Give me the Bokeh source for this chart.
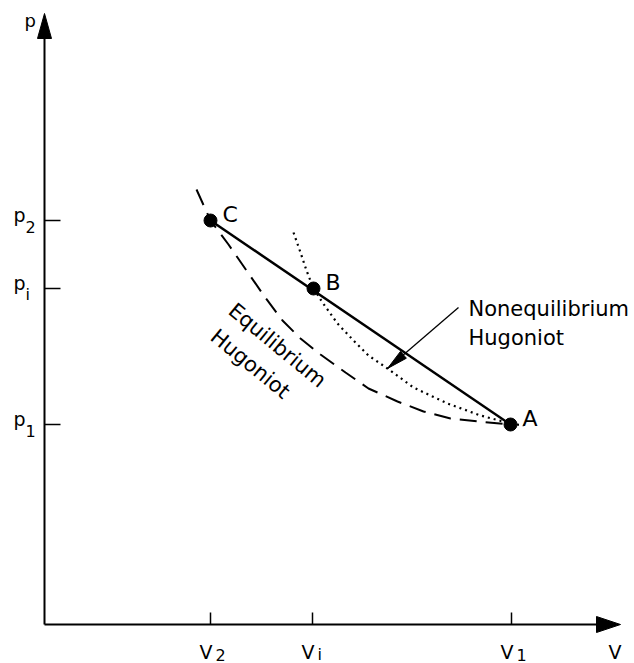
import numpy as np
from bokeh.plotting import figure
from bokeh.models import Range1d
from bokeh.core.properties import value
from bokeh.embed import file_html
from bokeh.resources import INLINE

# ---- data (arbitrary V / p units) ----
V_ticks = [1.66, 2.68, 4.67]
V_subs = ["2", "i", "1"]
p_ticks = [4.04, 3.36, 2.00]
p_subs = ["2", "i", "1"]

state_labels = ["C", "B", "A"]
state_V = [1.66, 2.69, 4.66]
state_p = [4.04, 3.36, 2.00]

# equilibrium Hugoniot (dashed)
eq_V = [1.52, 1.66, 1.84, 2.02, 2.20, 2.38, 2.56, 2.76, 3.01, 3.24, 3.53, 3.79, 4.06, 4.34, 4.66]
eq_p = [4.35, 4.04, 3.80, 3.54, 3.28, 3.04, 2.86, 2.70, 2.52, 2.36, 2.23, 2.13, 2.06, 2.03, 2.00]

# nonequilibrium Hugoniot (dotted)
neq_V = [2.49, 2.56, 2.62, 2.69, 2.78, 2.93, 3.09, 3.24, 3.43, 3.69, 4.03, 4.36, 4.66, 4.79]
neq_p = [3.92, 3.72, 3.54, 3.36, 3.22, 3.01, 2.84, 2.69, 2.56, 2.37, 2.21, 2.09, 2.01, 1.99]

# Rayleigh line C -> A
ray_V = [state_V[0], state_V[2]]
ray_p = [state_p[0], state_p[2]]

FONT = value("DejaVu Sans")

p = figure(width=634, height=663, output_backend="svg", toolbar_location=None,
           x_axis_location=None, y_axis_location=None,
           x_range=Range1d(-0.44, 5.90), y_range=Range1d(-0.39, 6.24),
           min_border=0, outline_line_color=None)
p.grid.visible = False
p.background_fill_color = "white"
p.border_fill_color = "white"

def head(tip, tail, length, half):
    tip = np.array(tip, float); tail = np.array(tail, float)
    d = tip - tail
    u = d / np.hypot(*d)
    n = np.array([-u[1], u[0]])
    b = tip - u * length
    pts = [tip, b + n * half, b - n * half]
    return [q[0] for q in pts], [q[1] for q in pts]

# axes
x_end = 5.76
y_end = 6.11
p.line([0, 0], [0, y_end - 0.2], line_color="black", line_width=2)
p.line([0, x_end - 0.2], [0, 0], line_color="black", line_width=2)
hx, hy = head((0, y_end), (0, 0), 0.25, 0.07)
p.patch(hx, hy, color="black")
hx, hy = head((x_end, 0), (0, 0), 0.24, 0.08)
p.patch(hx, hy, color="black")

# ticks
p.segment(x0=V_ticks, y0=[0] * 3, x1=V_ticks, y1=[0.12] * 3, line_color="black", line_width=1.5)
p.segment(x0=[0] * 3, y0=p_ticks, x1=[0.16] * 3, y1=p_ticks, line_color="black", line_width=1.5)

# tick labels
vt = np.array(V_ticks)
pt = np.array(p_ticks)
p.text(x=vt - 0.11, y=[-0.27] * 3, text=["V"] * 3, text_font=FONT, text_font_size="19px",
       text_align="left", text_baseline="alphabetic", text_color="black")
p.text(x=vt + 0.05, y=[-0.30] * 3, text=V_subs, text_font=FONT, text_font_size="16px",
       text_align="left", text_baseline="alphabetic", text_color="black")
p.text(x=[-0.31] * 3, y=pt + 0.06, text=["p"] * 3, text_font=FONT, text_font_size="19px",
       text_align="left", text_baseline="alphabetic", text_color="black")
p.text(x=[-0.19] * 3, y=pt - 0.06, text=p_subs, text_font=FONT, text_font_size="16px",
       text_align="left", text_baseline="alphabetic", text_color="black")

# axis titles
p.text(x=[5.64], y=[-0.27], text=["V"], text_font=FONT, text_font_size="19px",
       text_align="left", text_baseline="alphabetic", text_color="black")
p.text(x=[-0.20], y=[6.04], text=["p"], text_font=FONT, text_font_size="18px",
       text_align="left", text_baseline="alphabetic", text_color="black")

# curves
p.line(eq_V, eq_p, line_color="black", line_width=2, line_dash="17 9")
p.line(neq_V, neq_p, line_color="black", line_width=2.2, line_dash="2 4")
p.line(ray_V, ray_p, line_color="black", line_width=2.5)

# states
p.scatter(state_V, state_p, size=13, color="black")
p.text(x=np.array(state_V) + 0.12, y=np.array(state_p) + 0.06, text=state_labels,
       text_font=FONT, text_font_size="22px", text_align="left",
       text_baseline="alphabetic", text_color="black")

# pointer to nonequilibrium Hugoniot
ptr_start = (4.14, 3.17)
ptr_tip = (3.43, 2.56)
p.line([ptr_start[0], ptr_tip[0]], [ptr_start[1], ptr_tip[1]], line_color="black", line_width=1.3)
hx, hy = head(ptr_tip, ptr_start, 0.21, 0.045)
p.patch(hx, hy, color="black")

# annotations
p.text(x=[4.24, 4.24], y=[3.16, 2.87], text=["Nonequilibrium", "Hugoniot"],
       text_font=FONT, text_font_size="21px", text_align="left",
       text_baseline="alphabetic", text_color="black")
p.text(x=[1.87, 1.69], y=[3.17, 2.91], text=["Equilibrium", "Hugoniot"], angle=-0.69,
       text_font=FONT, text_font_size="21px", text_align="left",
       text_baseline="alphabetic", text_color="black")

open("out.html", "w").write(file_html(p, INLINE))
